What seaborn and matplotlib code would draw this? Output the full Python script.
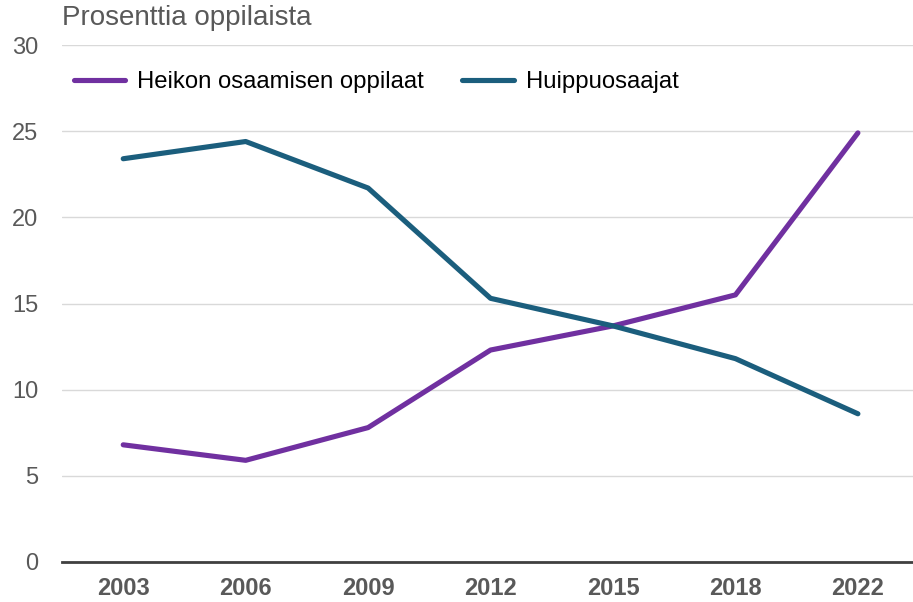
import pandas as pd
import seaborn as sns
import matplotlib.pyplot as plt

years = ["2003", "2006", "2009", "2012", "2015", "2018", "2022"]
heikot = [6.8, 5.9, 7.8, 12.3, 13.7, 15.5, 24.9]
huiput = [23.4, 24.4, 21.7, 15.3, 13.7, 11.8, 8.6]
series_names = ["Heikon osaamisen oppilaat", "Huippuosaajat"]
colors = ["#7030a0", "#1b5e7d"]

df = pd.DataFrame({
    "vuosi": years * 2,
    "arvo": heikot + huiput,
    "sarja": [series_names[0]] * len(years) + [series_names[1]] * len(years),
})

sns.set_style("white")
plt.rcParams["font.family"] = ["Liberation Sans", "DejaVu Sans"]

fig = plt.figure(figsize=(9.13, 6.02), dpi=100)
ax = fig.add_axes([62 / 913, 40 / 602, 1 - 62 / 913, (562 - 45) / 602])

sns.lineplot(data=df, x="vuosi", y="arvo", hue="sarja", palette=colors,
             linewidth=3.7, sort=False, ax=ax)

ax.set_xlim(-0.5, 6.45)
ax.set_ylim(0, 30)
ax.set_yticks(range(0, 31, 5))
ax.grid(axis="y", color="#d9d9d9", linewidth=1)
ax.set_axisbelow(True)
for s in ["top", "right", "left"]:
    ax.spines[s].set_visible(False)
ax.spines["bottom"].set_color("#404040")
ax.spines["bottom"].set_linewidth(2)
ax.tick_params(axis="y", length=0, pad=17, labelsize=17, labelcolor="#595959")
ax.tick_params(axis="x", length=0, pad=11, labelsize=17, labelcolor="#595959")
for t in ax.get_xticklabels():
    t.set_fontweight("bold")
ax.set_xlabel("")
ax.set_ylabel("")

fig.text(62 / 913, 1 - 18 / 602, "Prosenttia oppilaista", fontsize=20,
         color="#595959", va="center", ha="left")

leg = ax.legend(loc="center left", ncol=2, frameon=False, fontsize=17.2,
                bbox_to_anchor=(74 / 913, 1 - 82 / 602),
                bbox_transform=fig.transFigure, borderpad=0, borderaxespad=0,
                handlelength=2.15, columnspacing=1.6, handletextpad=0.5,
                labelcolor="black")
for line in leg.get_lines():
    line.set_linewidth(3.7)
    line.set_solid_capstyle("round")

fig.savefig("out.png", dpi=100)
